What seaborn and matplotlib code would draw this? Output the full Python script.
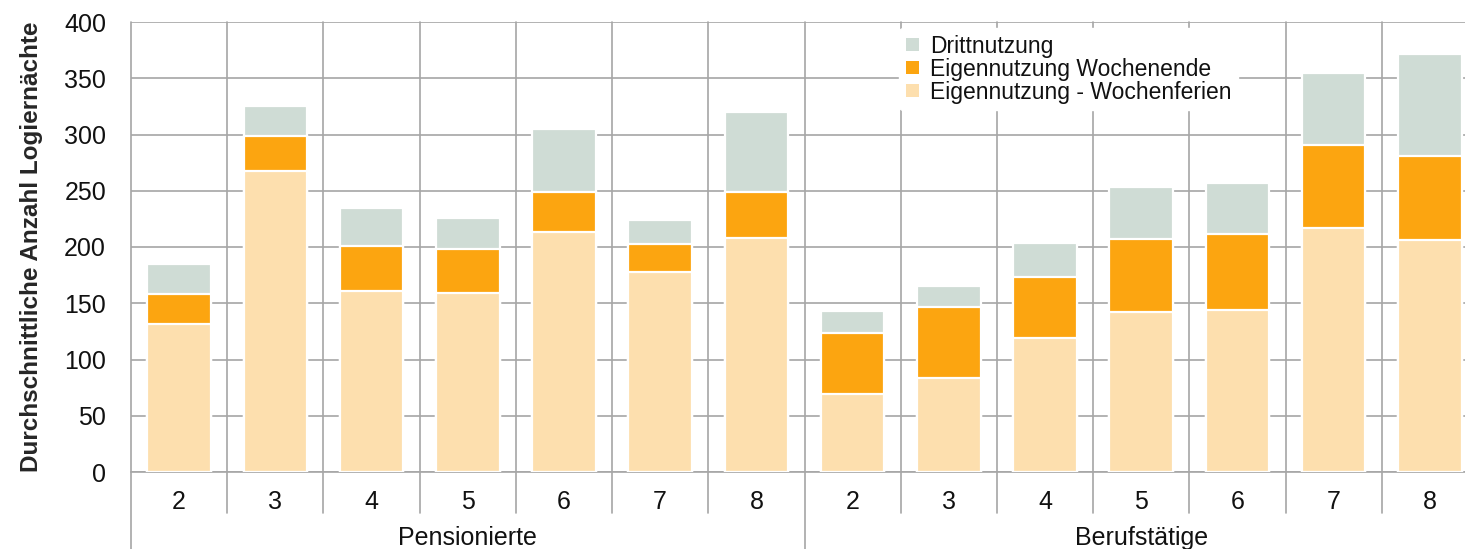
import matplotlib
matplotlib.use("Agg")
import matplotlib.pyplot as plt
import seaborn as sns
import pandas as pd
import numpy as np

# Household groups and number of persons per group
groups = ["Pensionierte"] * 7 + ["Berufstätige"] * 7
persons = ["2", "3", "4", "5", "6", "7", "8", "2", "3", "4", "5", "6", "7", "8"]

# Average overnight stays per usage type
wochenferien = [132, 268, 161, 159, 213, 178, 208, 69, 84, 119, 142, 144, 217, 206]
wochenende = [26, 31, 40, 39, 36, 25, 41, 55, 63, 54, 65, 68, 74, 75]
drittnutzung = [27, 26, 34, 28, 56, 21, 71, 19, 18, 31, 46, 45, 64, 91]

colors = {"Drittnutzung": "#CFDCD5",
          "Eigennutzung Wochenende": "#FCA510",
          "Eigennutzung - Wochenferien": "#FDDFAE"}

keys = [f"{g} {p}" for g, p in zip(groups, persons)]
df = pd.DataFrame({
    "key": keys,
    "Eigennutzung - Wochenferien": wochenferien,
    "Eigennutzung Wochenende": wochenende,
    "Drittnutzung": drittnutzung,
})
df["cum_we"] = df["Eigennutzung - Wochenferien"] + df["Eigennutzung Wochenende"]
df["cum_all"] = df["cum_we"] + df["Drittnutzung"]

sns.set_style("white")
plt.rcParams["font.family"] = ["Liberation Sans", "DejaVu Sans"]
plt.rcParams["text.color"] = "#111111"

fig = plt.figure(figsize=(14.65, 5.49), dpi=100)
ax = fig.add_axes([131 / 1465, 1 - 472 / 549, (1478 - 131) / 1465, 450 / 549])

grid_c = "#A6A6A6"

# stacked bars drawn as overlapping cumulative totals
layers = [("cum_all", "Drittnutzung"),
          ("cum_we", "Eigennutzung Wochenende"),
          ("Eigennutzung - Wochenferien", "Eigennutzung - Wochenferien")]
for col, name in layers:
    sns.barplot(data=df, x="key", y=col, order=keys, color=colors[name],
                width=0.66, edgecolor="white", linewidth=1.6,
                label=name, ax=ax, zorder=3, saturation=1)

ax.set_xlim(-0.5, 13.5)
ax.set_ylim(0, 400)
ax.set_yticks(np.arange(0, 401, 50))
ax.yaxis.grid(True, color=grid_c, linewidth=1.2, zorder=0)
ax.set_axisbelow(True)
ax.tick_params(axis="y", length=10, width=1.2, color=grid_c, labelsize=18, pad=8,
               labelcolor="#111111")
ax.tick_params(axis="x", length=0, labelsize=18, pad=13, labelcolor="#111111")
ax.set_xticks(range(len(keys)))
ax.set_xticklabels(persons)
ax.set_xlabel("")
ax.set_ylabel("Durchschnittliche Anzahl Logiernächte", fontsize=17.5, fontweight="bold")
ax.yaxis.set_label_coords(-0.065, 0.5)

for s in ["top", "right", "left"]:
    ax.spines[s].set_visible(False)
ax.spines["bottom"].set_color(grid_c)
ax.spines["bottom"].set_linewidth(1.2)

# category separators, extending below the axis
trans = ax.get_xaxis_transform()
for k in range(15):
    x = k - 0.5
    outer = k in (0, 7, 14)
    ax.plot([x, x], [-0.2 if outer else -0.09, 1.0], transform=trans,
            color=grid_c, linewidth=1.2, clip_on=False, zorder=1)

# group labels
for center, name in [(3, "Pensionierte"), (10, "Berufstätige")]:
    ax.text(center, -0.147, name, transform=trans, ha="center", va="center", fontsize=18)

handles, labels = ax.get_legend_handles_labels()
leg = ax.legend(handles, labels, loc="upper left", bbox_to_anchor=(0.566, 1.0),
                frameon=True, fontsize=16.5, handlelength=0.55, handleheight=0.55,
                handletextpad=0.5, labelspacing=0.0, borderpad=0.3, borderaxespad=0.25)
leg.get_frame().set_edgecolor("white")
leg.get_frame().set_facecolor("white")
leg.get_frame().set_alpha(1)
leg.set_zorder(5)
for h in leg.legend_handles:
    h.set_edgecolor("none")

fig.savefig("out.png", dpi=100)
